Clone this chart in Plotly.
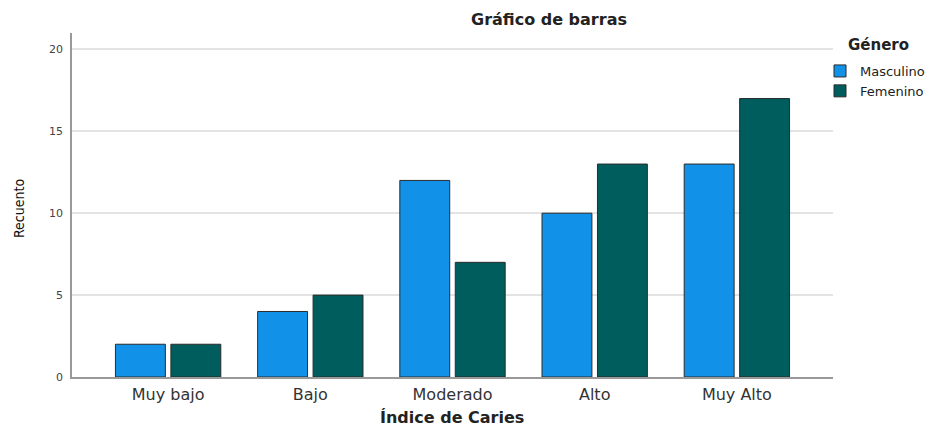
import plotly.graph_objects as go

categories = ["Muy bajo", "Bajo", "Moderado", "Alto", "Muy Alto"]
masculino = [2, 4, 12, 10, 13]
femenino = [2, 5, 7, 13, 17]
y_ticks = [0, 5, 10, 15, 20]

# page body has an 8px margin, so the figure is offset by (8, 8)
OFF = 8
W, H = 935 - 2 * OFF, 427 - OFF
PX0, PX1, PY0, PY1 = 72 - OFF, 833 - OFF, 33 - OFF, 377 - OFF
L, T = PX0, PY0
R = W - PX1
B = H - PY1
PW, PH = PX1 - PX0, PY1 - PY0


def px(xs):
    return (xs - OFF - PX0) / PW


def py(ys):
    return 1 - (ys - OFF - PY0) / PH


fig = go.Figure()
fig.add_trace(go.Bar(x=categories, y=masculino, name="Masculino",
                     marker=dict(color="#1192E8", line=dict(color="#2b2b2b", width=1))))
fig.add_trace(go.Bar(x=categories, y=femenino, name="Femenino",
                     marker=dict(color="#005D5D", line=dict(color="#2b2b2b", width=1))))

fig.update_layout(
    width=W, height=H,
    margin=dict(l=L, r=R, t=T, b=B, autoexpand=False),
    paper_bgcolor="white", plot_bgcolor="white",
    barmode="group", bargap=0.22, bargroupgap=0.1,
    font=dict(family="DejaVu Sans, sans-serif", color="#222"),
    showlegend=True,
    legend=dict(
        x=px(820), y=py(56), xanchor="left", yanchor="top",
        font=dict(size=13, color="#222"),
        itemwidth=30, tracegroupgap=0,
        bgcolor="rgba(0,0,0,0)",
    ),
    annotations=[
        dict(text="<b>Gráfico de barras</b>", xref="paper", yref="paper",
             x=px(549), y=py(20),
             xanchor="center", yanchor="middle", showarrow=False,
             font=dict(size=16, color="#222")),
        dict(text="<b>Género</b>", xref="paper", yref="paper",
             x=px(846), y=py(45),
             xanchor="left", yanchor="middle", showarrow=False,
             font=dict(size=15, color="#222")),
        dict(text="<b>Índice de Caries</b>", xref="paper", yref="paper",
             x=px(452), y=py(417),
             xanchor="center", yanchor="middle", showarrow=False,
             font=dict(size=16, color="#222")),
        dict(text="Recuento", xref="paper", yref="paper",
             x=px(19), y=py(209), textangle=-90,
             xanchor="center", yanchor="middle", showarrow=False,
             font=dict(size=14, color="#111",
                       family="Liberation Sans Narrow, DejaVu Sans Condensed, sans-serif")),
    ],
)

fig.update_xaxes(
    range=[-0.676, 4.676], automargin=False,
    showline=True, linecolor="#999", linewidth=1.5,
    ticks="", tickfont=dict(size=16, color="#333"), ticklabelstandoff=2,
    showgrid=False,
)
fig.update_yaxes(
    range=[0, 21], tickvals=y_ticks, automargin=False,
    showline=True, linecolor="#999", linewidth=1.5,
    ticks="", tickfont=dict(size=11, color="#444"), ticklabelstandoff=5,
    showgrid=True, gridcolor="#e3e3e3", gridwidth=1.5,
    zeroline=False,
)

fig.write_html("out.html")
